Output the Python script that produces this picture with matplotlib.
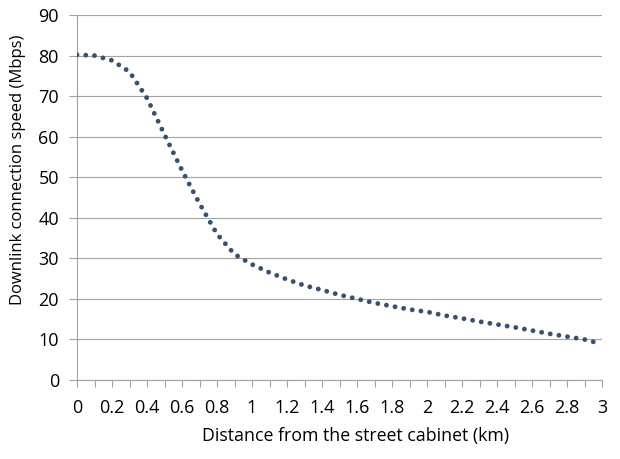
import matplotlib
matplotlib.use("Agg")
import matplotlib.pyplot as plt
from matplotlib.ticker import MultipleLocator

# distance from cabinet (km) and downlink speed (Mbps)
distance_km = [0.0, 0.1, 0.2, 0.3, 0.4, 0.5, 0.6, 0.7, 0.8, 0.9,
               1.0, 1.1, 1.2, 1.3, 1.4, 1.5, 1.6, 1.7, 1.8, 1.9,
               2.0, 2.1, 2.2, 2.3, 2.4, 2.5, 2.6, 2.7, 2.8, 2.9, 2.97]
speed_mbps = [80.2, 80.0, 78.8, 76.0, 69.5, 60.5, 51.7, 43.5, 36.0, 31.0,
              28.5, 26.5, 24.8, 23.3, 22.2, 21.0, 20.0, 19.0, 18.2, 17.4,
              16.8, 15.9, 15.2, 14.4, 13.7, 13.0, 12.2, 11.4, 10.7, 10.0, 9.2]

x_ticklabels = ["0", "0.2", "0.4", "0.6", "0.8", "1", "1.2", "1.4", "1.6",
                "1.8", "2", "2.2", "2.4", "2.6", "2.8", "3"]

GRID = "#a3a3a3"
DOT = "#385170"
FONT = ["Open Sans", "DejaVu Sans"]

fig = plt.figure(figsize=(6.2, 4.59), dpi=100)
ax = fig.add_axes([77 / 620, 1 - 380 / 459, (602 - 77) / 620, (380 - 15) / 459])

ax.plot(distance_km, speed_mbps, color=DOT, linewidth=3.5,
        linestyle=(0, (0.001, 1.8)), dash_capstyle="round",
        solid_capstyle="round", zorder=3)

ax.set_xlim(0, 3)
ax.set_ylim(0, 90)
ax.yaxis.set_major_locator(MultipleLocator(10))
ax.set_xticks([i * 0.2 for i in range(16)])
ax.set_xticklabels(x_ticklabels)
ax.xaxis.set_minor_locator(MultipleLocator(0.1))

ax.grid(axis="y", color=GRID, linewidth=0.8)
ax.set_axisbelow(True)
for side in ["top", "right"]:
    ax.spines[side].set_visible(False)
for side in ["left", "bottom"]:
    ax.spines[side].set_color(GRID)
    ax.spines[side].set_linewidth(0.8)

ax.tick_params(axis="y", direction="out", length=6, width=0.8, color=GRID,
               pad=7, labelsize=13)
ax.tick_params(axis="x", which="both", direction="out", length=5, width=0.8,
               color=GRID, pad=9, labelsize=13)
for lab in ax.get_xticklabels() + ax.get_yticklabels():
    lab.set_family(FONT)

ax.set_xlabel("Distance from the street cabinet (km)", fontsize=12.8,
              family=FONT, labelpad=7)
ax.set_ylabel("Downlink connection speed (Mbps)", fontsize=12,
              family=FONT, labelpad=9)
ax.xaxis.label.set_x(0.53)
ax.yaxis.label.set_y(0.575)

fig.savefig("out.png", dpi=100)
